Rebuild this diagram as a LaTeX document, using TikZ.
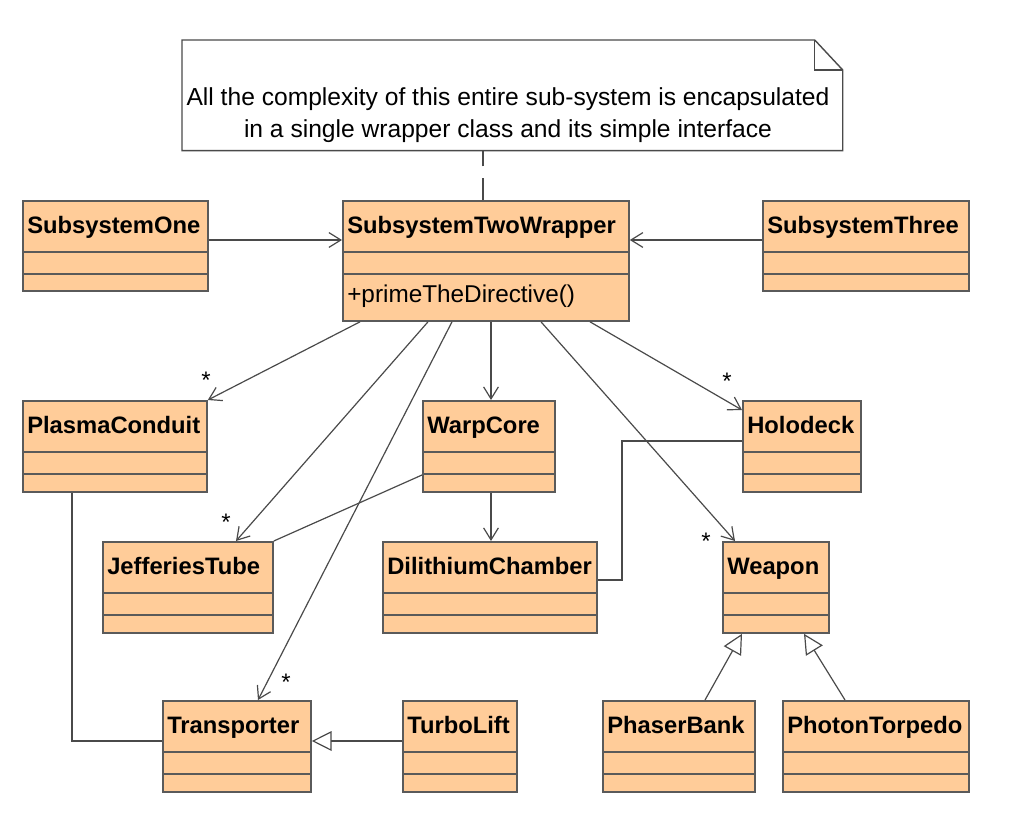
\documentclass[tikz,border=0pt]{standalone}
\usepackage{fontspec}
\setmainfont{Liberation Sans}
\usetikzlibrary{arrows.meta,calc}
\definecolor{peach}{HTML}{FFCC99}
\definecolor{boxgray}{HTML}{5A5A5A}
\definecolor{linegray}{HTML}{4A4A4A}
\tikzset{
  classbox/.style={draw=boxgray, line width=1.3pt, fill=peach, anchor=north west, inner sep=0pt},
  classrule/.style={draw=boxgray, line width=1.3pt},
  classname/.style={anchor=base west, inner sep=0pt, font=\fontsize{16.9}{20}\selectfont\bfseries},
  opname/.style={anchor=west, inner sep=0pt, font=\fontsize{17.3}{20}\selectfont},
  mult/.style={inner sep=0pt, font=\fontsize{17}{20}\selectfont},
  assoc/.style={draw=linegray, line width=0.85pt, -{Straight Barb[length=8.5pt,width=10.5pt]}},
  link/.style={draw=linegray, line width=0.85pt},
  gen/.style={draw=linegray, line width=0.85pt, -{Triangle[open, length=14pt, width=14pt, fill=white]}}
}
% name, x, y, width, title, height of last compartment
\newcommand{\umlclass}[6]{%
  \node[classbox, minimum width={#4*0.025cm}, minimum height={(74+#6)*0.025cm}] (#1) at (#2,#3) {};
  \draw[classrule] ($(#1.north west)+(0,52)$) -- ++(#4,0) ($(#1.north west)+(0,74)$) -- ++(#4,0);
  \node[classname] at ($(#1.north west)+(5,33)$) {#5};
}
\begin{document}
\begin{tikzpicture}[x=0.025cm, y=-0.025cm]
    \path[fill=white, use as bounding box] (0,0) rectangle (1010,834);

    \node at (182,40) [anchor=north west, minimum width=16.5cm, minimum height=2.75cm, inner sep=0pt] (note) {};
    \draw[link, line width=1pt] (note.north west) -- ($(note.north east)+(-28,0)$) -- ($(note.north east)+(0,30)$)
        -- (note.south east) -- (note.south west) -- cycle;
    \draw[link, line width=1pt] ($(note.north east)+(-28,0)$) |- ($(note.north east)+(0,30)$);
    \node at (508,115) [align=center, inner sep=0pt, font=\fontsize{17.5}{22.8}\selectfont] (notetext)
        {All the complexity of this entire sub-system is encapsulated\\in a single wrapper class and its simple interface};

    \umlclass{one}{22}{200}{185}{SubsystemOne}{16}
    \umlclass{wrapper}{342}{200}{286}{SubsystemTwoWrapper}{46}
    \umlclass{three}{762}{200}{206}{SubsystemThree}{16}
    \umlclass{plasma}{22}{400}{184}{PlasmaConduit}{17}
    \umlclass{warp}{422}{400}{132}{WarpCore}{17}
    \umlclass{holo}{742}{400}{118}{Holodeck}{17}
    \umlclass{jeff}{102}{541}{170}{JefferiesTube}{17}
    \umlclass{dili}{382}{541}{214}{DilithiumChamber}{17}
    \umlclass{weapon}{722}{541}{106}{Weapon}{17}
    \umlclass{trans}{162}{700}{148}{Transporter}{17}
    \umlclass{turbo}{402}{700}{114}{TurboLift}{17}
    \umlclass{phaser}{602}{700}{152}{PhaserBank}{17}
    \umlclass{photon}{782}{700}{186}{PhotonTorpedo}{17}
    \node[opname] (prime) at ($(wrapper.north west)+(5,96)$) {+primeTheDirective()};

    \draw[link, line width=1pt, dash pattern=on 15.5pt off 8.5pt] ($(wrapper.north west)+(141,0)$) -- ($(note.south west)+(301,0)$);

    \draw[assoc] ($(one.north east)+(0,40)$) -- ($(wrapper.north west)+(0,40)$);
    \draw[assoc] ($(three.north west)+(0,40)$) -- ($(wrapper.north east)+(0,40)$);

    \draw[assoc] ($(wrapper.south west)+(18,0)$) -- (plasma.north east);
    \node[mult] at (206,380) {*};
    \draw[assoc] ($(wrapper.south west)+(86,0)$) -- ($(jeff.north west)+(134,0)$);
    \node[mult] at (226,522) {*};
    \draw[assoc] ($(wrapper.south west)+(110,0)$) -- ($(trans.north west)+(96,0)$);
    \node[mult] at (286,682) {*};
    \draw[assoc] ($(wrapper.south west)+(149,0)$) -- ($(warp.north west)+(69,0)$);
    \draw[assoc] ($(warp.south west)+(69,0)$) -- ($(dili.north west)+(109,0)$);
    \draw[assoc] ($(wrapper.south west)+(199,0)$) -- ($(weapon.north west)+(13,0)$);
    \node[mult] at (706,541) {*};
    \draw[assoc] ($(wrapper.south west)+(248,0)$) -- ($(holo.north west)+(0,10)$);
    \node[mult] at (727,381) {*};

    \draw[link] (jeff.north east) -- ($(warp.north west)+(0,75)$);
    \draw[link] ($(holo.north west)+(0,41)$) -- ++(-120,0) |- ($(dili.north east)+(0,39)$);
    \draw[link] ($(plasma.south west)+(50,0)$) |- ($(trans.north west)+(0,41)$);

    \draw[gen] ($(turbo.north west)+(0,41)$) -- ($(trans.north east)+(0,41)$);
    \draw[gen] ($(phaser.north west)+(103,0)$) -- ($(weapon.south west)+(20,0)$);
    \draw[gen] ($(photon.north west)+(63,0)$) -- ($(weapon.south west)+(82,0)$);
\end{tikzpicture}
\end{document}
